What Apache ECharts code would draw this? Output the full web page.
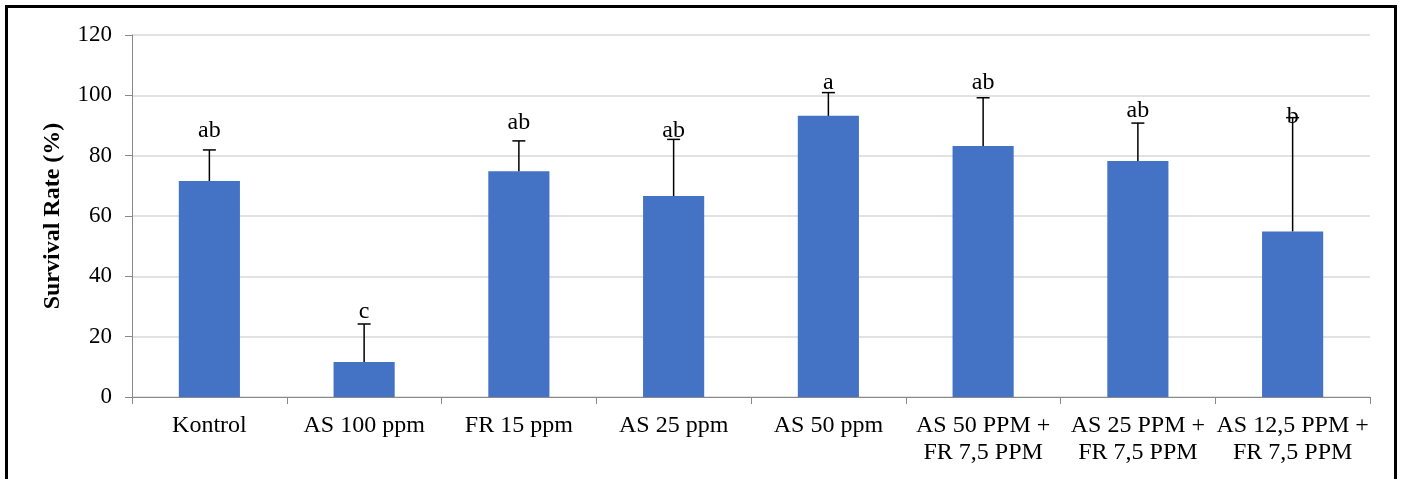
<!DOCTYPE html>
<html lang="id" style="height: 100%">
<head>
  <meta charset="utf-8">
</head>
<body style="height: 100%; margin: 0; background: #fff">
  <div id="container" style="width: 1402px; height: 479px"></div>

  <script type="text/javascript" src="https://cdn.jsdelivr.net/npm/echarts@6/dist/echarts.min.js"></script>
  <script type="text/javascript">
    // treatments and survival data
    var categories = ['Kontrol', 'AS 100 ppm', 'FR 15 ppm', 'AS 25 ppm', 'AS 50 ppm',
      'AS 50 PPM +\nFR 7,5 PPM', 'AS 25 PPM +\nFR 7,5 PPM', 'AS 12,5 PPM +\nFR 7,5 PPM'];
    var survival = [71.6, 11.6, 74.8, 66.6, 93.2, 83.2, 78.2, 54.9];
    var errorUp = [10.3, 12.6, 10.1, 18.8, 7.7, 16.0, 12.6, 37.7];
    var letters = ['ab', 'c', 'ab', 'ab', 'a', 'ab', 'ab', 'b'];
    var letterPos = [88.3, 28.3, 90.8, 88.3, 104.1, 104.3, 94.9, 92.8];
    var yTicks = [0, 20, 40, 60, 80, 100, 120];

    var font = '"Liberation Serif", "Times New Roman", serif';

    var dom = document.getElementById('container');
    var myChart = echarts.init(dom, null, { renderer: 'canvas' });

    var option = {
      backgroundColor: '#fff',
      animation: false,
      graphic: [{
        type: 'rect',
        shape: { x: 6.5, y: 6.5, width: 1389, height: 520 },
        style: { fill: 'none', stroke: '#000', lineWidth: 3 },
        silent: true
      }],
      grid: { left: 132, right: 32, top: 35, bottom: 82 },
      xAxis: {
        type: 'category',
        data: categories,
        axisLine: { lineStyle: { color: '#898989', width: 1 } },
        axisTick: { show: true, length: 7, alignWithLabel: false, lineStyle: { color: '#898989' } },
        axisLabel: {
          color: '#000', fontFamily: font, fontSize: 24, lineHeight: 27,
          margin: 15, interval: 0
        }
      },
      yAxis: {
        type: 'value',
        min: yTicks[0],
        max: yTicks[yTicks.length - 1],
        interval: 20,
        name: 'Survival Rate (%)',
        nameLocation: 'middle',
        nameGap: 67,
        nameTextStyle: { color: '#000', fontFamily: font, fontSize: 24, fontWeight: 'bold' },
        axisLine: { show: true, lineStyle: { color: '#898989', width: 1 } },
        axisTick: { show: true, length: 7, lineStyle: { color: '#898989' } },
        axisLabel: { color: '#000', fontFamily: font, fontSize: 23, margin: 20 },
        splitLine: { lineStyle: { color: '#d9d9d9', width: 1.5 } }
      },
      series: [
        {
          name: 'Survival',
          type: 'bar',
          data: survival,
          barWidth: '39.5%',
          itemStyle: { color: '#4472C4' }
        },
        {
          name: 'SD',
          type: 'custom',
          data: survival.map(function (v, i) { return [i, v, v + errorUp[i]]; }),
          z: 5,
          renderItem: function (params, api) {
            var base = api.coord([api.value(0), api.value(1)]);
            var top = api.coord([api.value(0), api.value(2)]);
            var half = 6.5;
            return {
              type: 'group',
              children: [
                { type: 'line', shape: { x1: base[0], y1: base[1], x2: top[0], y2: top[1] },
                  style: { stroke: '#000', lineWidth: 1.5 } },
                { type: 'line', shape: { x1: top[0] - half, y1: top[1], x2: top[0] + half, y2: top[1] },
                  style: { stroke: '#000', lineWidth: 1.5 } }
              ]
            };
          }
        },
        {
          name: 'Notasi',
          type: 'custom',
          data: letterPos.map(function (v, i) { return [i, v]; }),
          z: 6,
          renderItem: function (params, api) {
            var p = api.coord([api.value(0), api.value(1)]);
            return {
              type: 'text',
              style: {
                text: letters[params.dataIndex],
                x: p[0], y: p[1],
                align: 'center', verticalAlign: 'middle',
                fontFamily: font, fontSize: 24, fill: '#000'
              }
            };
          }
        }
      ]
    };

    myChart.setOption(option);
    window.addEventListener('resize', myChart.resize);
  </script>
</body>
</html>
